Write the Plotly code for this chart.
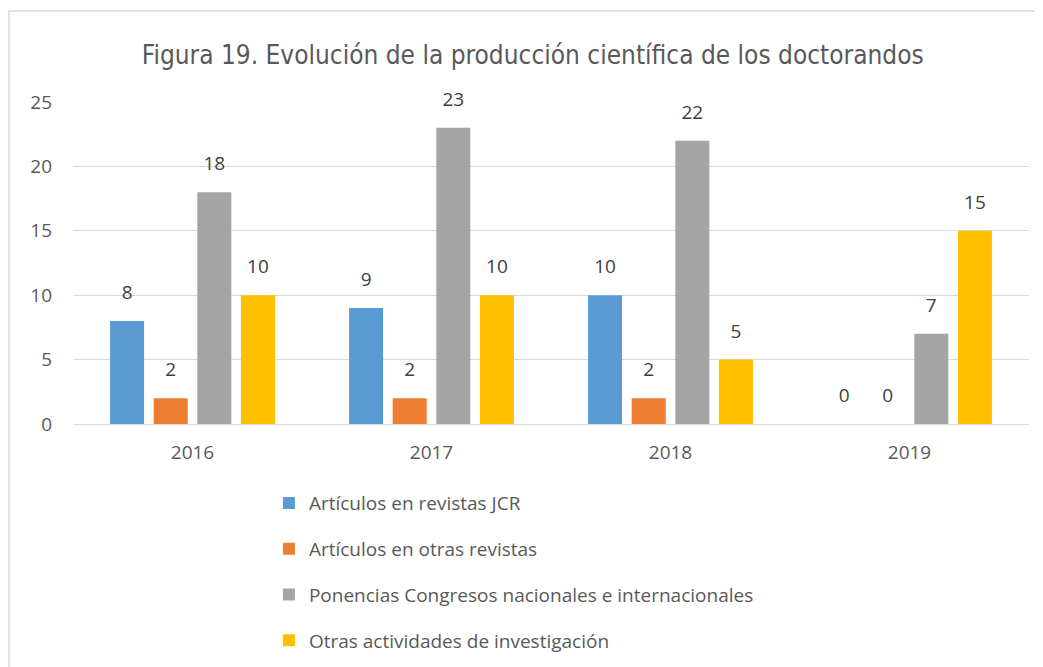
import plotly.graph_objects as go

# Data
years = ["2016", "2017", "2018", "2019"]
jcr = [8, 9, 10, 0]
otras_revistas = [2, 2, 2, 0]
ponencias = [18, 23, 22, 7]
otras_actividades = [10, 10, 5, 15]

series_names = [
    "Artículos en revistas JCR",
    "Artículos en otras revistas",
    "Ponencias Congresos nacionales e internacionales",
    "Otras actividades de investigación",
]
series_values = [jcr, otras_revistas, ponencias, otras_actividades]
colors = ["#5B9BD5", "#ED7D31", "#A5A5A5", "#FFC000"]

fig = go.Figure()
for i, (name, vals, col) in enumerate(zip(series_names, series_values, colors)):
    fig.add_trace(go.Bar(
        x=years, y=vals, name=name,
        marker=dict(color=col, line=dict(width=0)),
        offsetgroup=str(i), alignmentgroup="a",
        legendgroup=f"g{i}",
    ))
    # value labels, sitting a bit higher above the bars than bar text would
    fig.add_trace(go.Scatter(
        x=years, y=vals, mode="markers+text",
        text=[str(v) for v in vals], textposition="top center",
        textfont=dict(size=19, color="#404040", family="Open Sans, Noto Sans, sans-serif"),
        marker=dict(size=26, opacity=0),
        offsetgroup=str(i), alignmentgroup="a",
        cliponaxis=False, showlegend=False, hoverinfo="skip",
        legendgroup=f"g{i}",
    ))

# page body has an 8px margin, so the figure is 8px smaller than the window
fig.update_layout(
    width=1035, height=659,
    margin=dict(l=65, r=14, t=94, b=243, autoexpand=False),
    paper_bgcolor="white", plot_bgcolor="white",
    barmode="group", bargap=0.27, bargroupgap=0.22,
    scattermode="group", scattergap=0.27,
    title=dict(
        text="Figura 19. Evolución de la producción científica de los doctorandos",
        x=0.507, xanchor="center", y=0.929, yanchor="middle",
        font=dict(family="Liberation Sans Narrow, Arial Narrow, DejaVu Sans Condensed, Open Sans, sans-serif",
                  size=26, color="#595959"),
    ),
    font=dict(family="Open Sans, Noto Sans, sans-serif", color="#595959"),
    legend=dict(
        orientation="v", xref="container", yref="container",
        x=0.2521, xanchor="left", y=0.2774, yanchor="top",
        traceorder="grouped", tracegroupgap=18,
        font=dict(size=19, color="#595959"),
        bgcolor="rgba(0,0,0,0)",
    ),
    showlegend=True,
)

fig.update_xaxes(showgrid=False, ticks="", showline=False, ticklabelstandoff=15,
                 tickfont=dict(size=19, color="#595959"))
fig.update_yaxes(range=[0, 25], dtick=5, showgrid=True, gridcolor="#d9d9d9", gridwidth=1,
                 zeroline=True, zerolinecolor="#d9d9d9", zerolinewidth=1,
                 ticks="", ticklabelstandoff=20, showline=False,
                 tickfont=dict(size=19, color="#595959"))

# light outer frame of the chart area
fig.add_shape(type="rect", xref="paper", yref="paper",
              x0=-0.067, x1=1.2, y0=-1.0, y1=1.2826,
              line=dict(color="#d9d9d9", width=1.5), fillcolor="rgba(0,0,0,0)", layer="below")

fig.write_html("out.html")
